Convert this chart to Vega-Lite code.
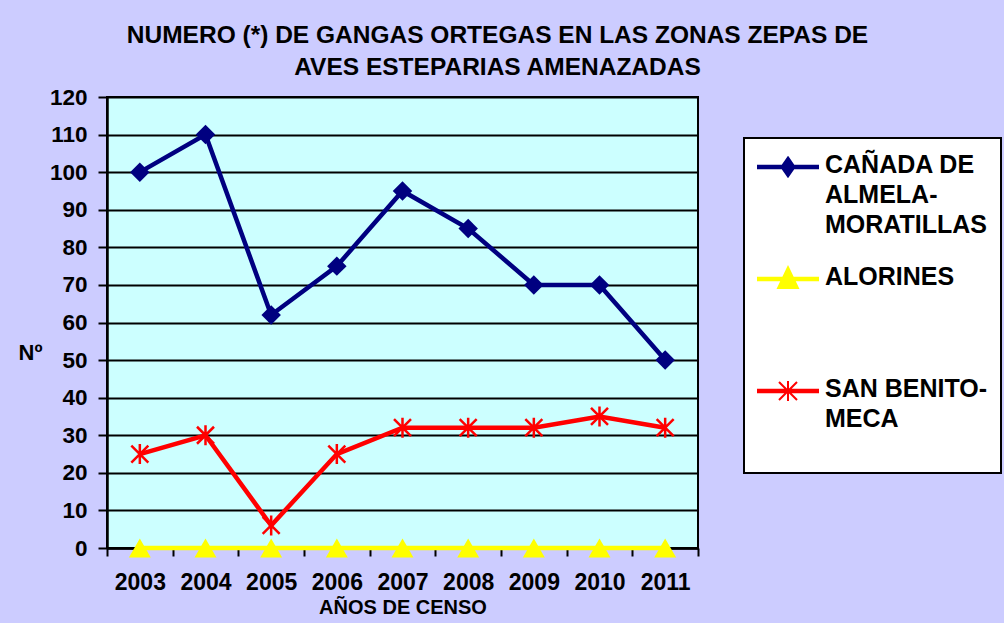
{
  "$schema": "https://vega.github.io/schema/vega-lite/v6.json",
  "autosize": {"type": "none"},
  "width": 591,
  "height": 451,
  "padding": {"left": 107, "top": 97, "right": 306, "bottom": 75},
  "background": "#ccccff",
  "title": {
    "text": ["NUMERO (*) DE GANGAS ORTEGAS EN LAS ZONAS ZEPAS DE", "AVES ESTEPARIAS AMENAZADAS"],
    "font": "Liberation Sans",
    "fontSize": 24.5,
    "fontWeight": "bold",
    "color": "#000000",
    "lineHeight": 32,
    "anchor": "middle",
    "dx": 95,
    "offset": 6
  },
  "data": {
    "values": [
      {"anio": "2003", "serie": "CAÑADA DE ALMELA-MORATILLAS", "n": 100},
      {"anio": "2004", "serie": "CAÑADA DE ALMELA-MORATILLAS", "n": 110},
      {"anio": "2005", "serie": "CAÑADA DE ALMELA-MORATILLAS", "n": 62},
      {"anio": "2006", "serie": "CAÑADA DE ALMELA-MORATILLAS", "n": 75},
      {"anio": "2007", "serie": "CAÑADA DE ALMELA-MORATILLAS", "n": 95},
      {"anio": "2008", "serie": "CAÑADA DE ALMELA-MORATILLAS", "n": 85},
      {"anio": "2009", "serie": "CAÑADA DE ALMELA-MORATILLAS", "n": 70},
      {"anio": "2010", "serie": "CAÑADA DE ALMELA-MORATILLAS", "n": 70},
      {"anio": "2011", "serie": "CAÑADA DE ALMELA-MORATILLAS", "n": 50},
      {"anio": "2003", "serie": "ALORINES", "n": 0},
      {"anio": "2004", "serie": "ALORINES", "n": 0},
      {"anio": "2005", "serie": "ALORINES", "n": 0},
      {"anio": "2006", "serie": "ALORINES", "n": 0},
      {"anio": "2007", "serie": "ALORINES", "n": 0},
      {"anio": "2008", "serie": "ALORINES", "n": 0},
      {"anio": "2009", "serie": "ALORINES", "n": 0},
      {"anio": "2010", "serie": "ALORINES", "n": 0},
      {"anio": "2011", "serie": "ALORINES", "n": 0},
      {"anio": "2003", "serie": "SAN BENITO-MECA", "n": 25},
      {"anio": "2004", "serie": "SAN BENITO-MECA", "n": 30},
      {"anio": "2005", "serie": "SAN BENITO-MECA", "n": 6},
      {"anio": "2006", "serie": "SAN BENITO-MECA", "n": 25},
      {"anio": "2007", "serie": "SAN BENITO-MECA", "n": 32},
      {"anio": "2008", "serie": "SAN BENITO-MECA", "n": 32},
      {"anio": "2009", "serie": "SAN BENITO-MECA", "n": 32},
      {"anio": "2010", "serie": "SAN BENITO-MECA", "n": 35},
      {"anio": "2011", "serie": "SAN BENITO-MECA", "n": 32}
    ]
  },
  "encoding": {
    "x": {
      "field": "anio",
      "type": "ordinal",
      "scale": {"type": "band", "paddingInner": 0, "paddingOuter": 0},
      "axis": {
        "title": "AÑOS DE CENSO",
        "labelAngle": 0,
        "tickBand": "extent",
        "labelFont": "Liberation Sans",
        "labelFontSize": 23,
        "labelFontWeight": "bold",
        "labelColor": "#000000",
        "labelPadding": 15,
        "tickSize": 8,
        "tickWidth": 2,
        "tickColor": "#000000",
        "domainColor": "#000000",
        "domainWidth": 2.5,
        "titleFont": "Liberation Sans",
        "titleFontSize": 20,
        "titleFontWeight": "bold",
        "titleColor": "#000000",
        "titlePadding": 3
      }
    },
    "y": {
      "field": "n",
      "type": "quantitative",
      "scale": {"domain": [0, 120], "nice": false},
      "axis": {
        "title": "Nº",
        "values": [0, 10, 20, 30, 40, 50, 60, 70, 80, 90, 100, 110, 120],
        "grid": true,
        "gridColor": "#000000",
        "gridWidth": 2,
        "gridOpacity": 1,
        "labelFont": "Liberation Sans",
        "labelFontSize": 22.5,
        "labelFontWeight": "bold",
        "labelColor": "#000000",
        "labelPadding": 11,
        "tickSize": 9,
        "tickWidth": 2,
        "tickColor": "#000000",
        "domainColor": "#000000",
        "domainWidth": 2.5,
        "titleFont": "Liberation Sans",
        "titleFontSize": 22,
        "titleFontWeight": "bold",
        "titleColor": "#000000",
        "titleAngle": 0,
        "titleAlign": "center",
        "titleBaseline": "middle",
        "titleX": -77,
        "titleY": 255
      }
    }
  },
  "layer": [
    {
      "mark": {"type": "line", "strokeWidth": 4.5},
      "encoding": {
        "color": {
          "field": "serie",
          "type": "nominal",
          "scale": {
            "domain": ["CAÑADA DE ALMELA-MORATILLAS", "ALORINES", "SAN BENITO-MECA"],
            "range": ["#000080", "#ffff00", "#ff0000"]
          },
          "legend": {
            "title": "\u00a0",
            "titleOrient": "bottom",
            "titleFontSize": 16,
            "titlePadding": 12,
            "orient": "none",
            "legendX": 637,
            "legendY": 41,
            "direction": "vertical",
            "padding": 13,
            "fillColor": "#ffffff",
            "strokeColor": "#000000",
            "gridAlign": "all",
            "rowPadding": 25,
            "symbolSize": 900,
            "labelOffset": 36,
            "labelFont": "Liberation Sans",
            "labelFontSize": 25,
            "labelFontWeight": "bold",
            "labelColor": "#000000",
            "labelLimit": 400,
            "labelBaseline": "top",
            "labelExpr": "datum.index == 0 ? ['CAÑADA DE', 'ALMELA-', 'MORATILLAS'] : datum.index == 1 ? ['ALORINES'] : ['SAN BENITO-', 'MECA']",
            "encode": {
              "legend": {"update": {"strokeWidth": {"value": 2}}},
              "labels": {"update": {"lineHeight": {"value": 30}, "dy": {"value": -14}}},
              "symbols": {
                "update": {
                  "shape": {"signal": "datum.index == 0 ? 'M-1,-0.09L3,-0.09L3,0.09L-1,0.09ZM1,-0.64L1.44,0L1,0.64L0.56,0Z' : datum.index == 1 ? 'M-1,-0.09L3,-0.09L3,0.09L-1,0.09ZM1,-0.78L1.66,0.6L0.34,0.6Z' : 'M-1,-0.09L3,-0.09L3,0.09L-1,0.09ZM1,-0.66L1,0.66M0.4,-0.6L1.6,0.6M0.4,0.6L1.6,-0.6'"},
                  "fill": {"signal": "datum.index == 0 ? '#000080' : datum.index == 1 ? '#ffff00' : '#ff0000'"},
                  "stroke": {"signal": "datum.index == 0 ? '#000080' : datum.index == 1 ? '#ffff00' : '#ff0000'"},
                  "strokeWidth": {"value": 2},
                  "opacity": {"value": 1},
                  "fillOpacity": {"value": 1},
                  "strokeOpacity": {"value": 1}
                }
              }
            }
          }
        }
      }
    },
    {
      "transform": [{"filter": "datum.serie == 'CAÑADA DE ALMELA-MORATILLAS'"}],
      "mark": {"type": "point", "shape": "diamond", "filled": true, "size": 380, "color": "#000080", "opacity": 1}
    },
    {
      "transform": [{"filter": "datum.serie == 'ALORINES'"}],
      "mark": {"type": "point", "shape": "triangle-up", "filled": true, "size": 480, "color": "#ffff00", "opacity": 1}
    },
    {
      "transform": [{"filter": "datum.serie == 'SAN BENITO-MECA'"}],
      "mark": {"type": "point", "shape": "M0,-1L0,1M-0.85,-0.85L0.85,0.85M-0.85,0.85L0.85,-0.85", "filled": false, "size": 400, "color": "#ff0000", "strokeWidth": 2.5, "opacity": 1}
    }
  ],
  "config": {
    "view": {"fill": "#ccffff", "stroke": "#000000", "strokeWidth": 2}
  }
}
